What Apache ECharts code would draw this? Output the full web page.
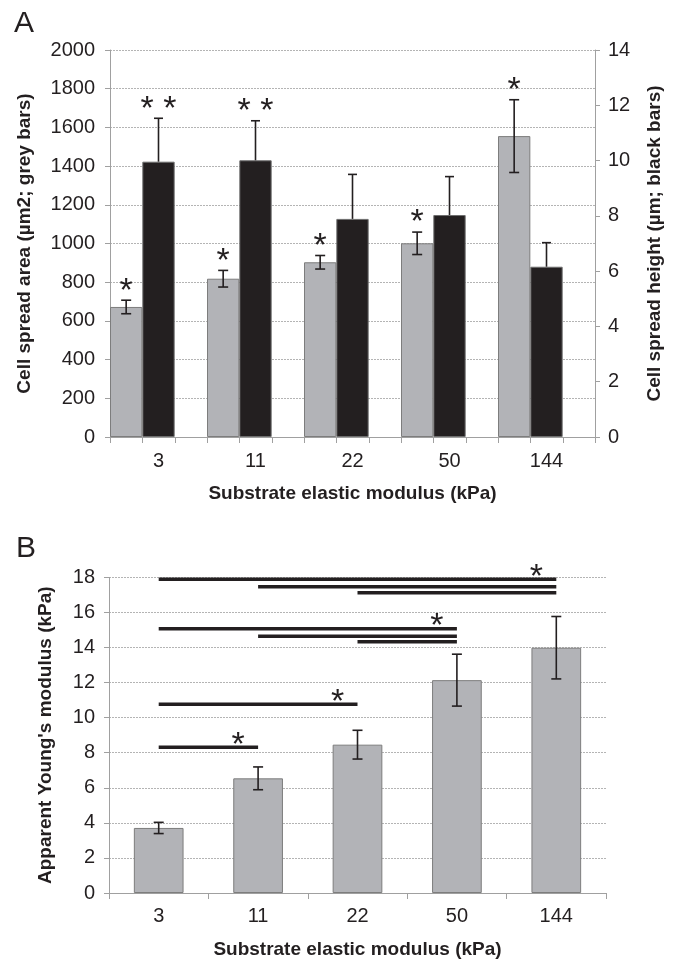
<!DOCTYPE html>
<html>
<head>
<meta charset="UTF-8">
<title>substrate stiffness</title>
<script type="text/javascript" src="https://cdn.jsdelivr.net/npm/echarts@6/dist/echarts.min.js"></script>
<style>
  body { margin: 0; background: #fff; }
</style>
</head>
<body>
<div id="main" style="width: 676px; height: 960px"></div>

<script type="text/javascript">
	// categories (substrate elastic modulus, kPa)
	var categories = ['3', '11', '22', '50', '144'];
	// bar-edge tick slots inside each category of panel A (last category also closes the axis)
	var edgeSlots = [[0, 1, 2], [0, 1, 2], [0, 1, 2], [0, 1, 2], [0, 1, 2, 3]];

	// panel A: grey bars = spread area (left axis), black bars = height (right axis)
	var areaMean = [672, 818, 903, 1001, 1555];
	var areaErr = [35, 43, 35, 58, 188];
	var areaStars = ['*', '*', '*', '*', '*'];
	var heightMean = [9.96, 10.01, 7.89, 8.03, 6.16];
	var heightErr = [1.57, 1.43, 1.61, 1.39, 0.87];
	var heightStars = ['* *', '* *', '', '', ''];

	// panel B: apparent Young's modulus
	var modulusMean = [3.71, 6.54, 8.46, 12.14, 13.99];
	var modulusErr = [0.32, 0.65, 0.82, 1.48, 1.78];

	// significance bars in panel B (category index from -> to, height in kPa)
	var sigFrom = [0, 1, 2, 0, 1, 2, 0, 0];
	var sigTo = [4, 4, 4, 3, 3, 3, 2, 1];
	var sigY = [17.89, 17.47, 17.12, 15.07, 14.65, 14.33, 10.77, 8.31];
	var sigStar = [true, false, false, true, false, false, true, true];

	var ink = '#231f20';
	var axisGrey = '#a0a0a0';
	var tickFont = 'Liberation Sans, Arial, sans-serif';
	var starFont = '34px Liberation Sans';

	var mychart = echarts.init(document.getElementById('main'));

	// error bar drawer; shift = offset of the bar centre in category widths
	function errorBars(shift, upperOnly, stars, capW, ticks) {
		return function (params, api) {
			var i = api.value(0), v = api.value(1), e = api.value(2);
			var band = api.size([1, 0])[0];
			var top = api.coord([i, v + e]);
			var bot = api.coord([i, upperOnly ? v : v - e]);
			var x = top[0] + shift * band;
			var st = { stroke: ink, lineWidth: 1.6 };
			var kids = [
				{ type: 'line', shape: { x1: x, y1: top[1], x2: x, y2: bot[1] }, style: st },
				{ type: 'line', shape: { x1: x - capW / 2, y1: top[1], x2: x + capW / 2, y2: top[1] }, style: st }
			];
			if (!upperOnly) {
				kids.push({ type: 'line', shape: { x1: x - capW / 2, y1: bot[1], x2: x + capW / 2, y2: bot[1] }, style: st });
			}
			var s = stars ? stars[params.dataIndex] : '';
			if (s) {
				kids.push({
					type: 'text', x: x, y: top[1] - 9,
					style: { text: s, fill: ink, font: starFont, align: 'center', verticalAlign: 'middle', textAlign: 'center', textVerticalAlign: 'middle' }
				});
			}
			if (ticks) {
				// axis ticks at the bar edges of this category
				var base = api.coord([i, 0]);
				ticks[params.dataIndex].forEach(function (slot) {
					var tx = Math.round(base[0] + (slot / 3 - 0.5) * band) + 0.5;
					kids.push({ type: 'line', shape: { x1: tx, y1: base[1], x2: tx, y2: base[1] + 6 }, style: { stroke: axisGrey, lineWidth: 1 } });
				});
			}
			return { type: 'group', children: kids };
		};
	}

	function sigBars(params, api) {
		var a = api.coord([api.value(0), api.value(2)]);
		var b = api.coord([api.value(1), api.value(2)]);
		var kids = [{ type: 'line', shape: { x1: a[0], y1: a[1], x2: b[0], y2: b[1] }, style: { stroke: ink, lineWidth: 3.5 } }];
		if (sigStar[params.dataIndex]) {
			kids.push({
				type: 'text', x: b[0] - 20, y: b[1] - 2,
				style: { text: '*', fill: ink, font: starFont, align: 'center', verticalAlign: 'middle', textAlign: 'center', textVerticalAlign: 'middle' }
			});
		}
		return { type: 'group', children: kids };
	}

	var plain = function (v) { return String(v); };
	var yLabel = { color: ink, fontFamily: tickFont, fontSize: 20, formatter: plain };
	var nameStyle = { color: ink, fontFamily: tickFont, fontSize: 19, fontWeight: 'bold' };
	var dotted = { show: true, lineStyle: { color: '#b4b4b4', type: [2, 1], width: 1 } };

	var option = {
		animation: false,
		textStyle: { fontFamily: tickFont },
		graphic: [
			{ type: 'text', left: 14, top: 9, style: { text: 'A', font: '30px Liberation Sans', fill: ink } },
			{ type: 'text', left: 16, top: 534, style: { text: 'B', font: '30px Liberation Sans', fill: ink } }
		],
		grid: [
			{ left: 110, top: 50, width: 485, height: 387 },
			{ left: 109, top: 577.4, width: 497, height: 318.6 }
		],
		xAxis: [{
			gridIndex: 0, type: 'category', data: categories,
			axisLine: { onZero: false, lineStyle: { color: axisGrey } },
			axisTick: { show: true, length: 6, lineStyle: { color: axisGrey } },
			axisLabel: { color: ink, fontSize: 20, margin: 14 },
			name: 'Substrate elastic modulus (kPa)', nameLocation: 'middle', nameGap: 47,
			nameTextStyle: nameStyle
		}, {
			gridIndex: 1, type: 'category', data: categories,
			axisLine: { lineStyle: { color: axisGrey } },
			axisTick: { show: true, length: 6, lineStyle: { color: axisGrey } },
			axisLabel: { color: ink, fontSize: 20, margin: 13 },
			name: 'Substrate elastic modulus (kPa)', nameLocation: 'middle', nameGap: 47,
			nameTextStyle: nameStyle
		}],
		yAxis: [{
			gridIndex: 0, type: 'value', min: 0, max: 2000, interval: 200,
			axisLine: { show: true, lineStyle: { color: axisGrey } },
			axisTick: { show: true, length: 5, lineStyle: { color: axisGrey } },
			axisLabel: Object.assign({ margin: 15 }, yLabel),
			splitLine: dotted,
			name: 'Cell spread area (µm2; grey bars)', nameLocation: 'middle', nameGap: 76,
			nameRotate: 90, nameTextStyle: nameStyle
		}, {
			gridIndex: 0, type: 'value', position: 'right', min: 0, max: 14, interval: 2,
			axisLine: { show: true, lineStyle: { color: axisGrey } },
			axisTick: { show: true, length: 5, lineStyle: { color: axisGrey } },
			axisLabel: Object.assign({ margin: 13 }, yLabel),
			splitLine: { show: false },
			name: 'Cell spread height (µm; black bars)', nameLocation: 'middle', nameGap: 50,
			nameRotate: 90, nameTextStyle: nameStyle
		}, {
			gridIndex: 1, type: 'value', min: 0, max: 18, interval: 2,
			axisLine: { show: true, lineStyle: { color: axisGrey } },
			axisTick: { show: true, length: 5, lineStyle: { color: axisGrey } },
			axisLabel: Object.assign({ margin: 14 }, yLabel),
			splitLine: dotted,
			name: "Apparent Young's modulus (kPa)", nameLocation: 'middle', nameGap: 54,
			nameRotate: 90, nameTextStyle: nameStyle
		}],
		series: [{
			name: 'area', type: 'bar', xAxisIndex: 0, yAxisIndex: 0,
			data: areaMean, barGap: '0%', barCategoryGap: '0%',
			itemStyle: { color: '#b2b3b7', borderColor: '#7d7d7d', borderWidth: 1 }
		}, {
			name: 'height', type: 'bar', xAxisIndex: 0, yAxisIndex: 1,
			data: heightMean, barGap: '0%', barCategoryGap: '0%',
			itemStyle: { color: ink, borderColor: '#6e6e6e', borderWidth: 1 }
		}, {
			// empty third slot keeps the pair left-aligned in each category
			name: 'spacer', type: 'bar', xAxisIndex: 0, yAxisIndex: 1,
			data: [null, null, null, null, null], barGap: '0%', barCategoryGap: '0%'
		}, {
			type: 'custom', xAxisIndex: 0, yAxisIndex: 0, z: 10, clip: false,
			renderItem: errorBars(-1 / 3, false, areaStars, 10, edgeSlots),
			data: areaMean.map(function (v, i) { return [i, v, areaErr[i]]; })
		}, {
			type: 'custom', xAxisIndex: 0, yAxisIndex: 1, z: 10,
			renderItem: errorBars(0, true, heightStars, 9, null),
			data: heightMean.map(function (v, i) { return [i, v, heightErr[i]]; })
		}, {
			name: 'modulus', type: 'bar', xAxisIndex: 1, yAxisIndex: 2,
			data: modulusMean, barWidth: '50%',
			itemStyle: { color: '#b2b3b7', borderColor: '#7d7d7d', borderWidth: 1 }
		}, {
			type: 'custom', xAxisIndex: 1, yAxisIndex: 2, z: 10,
			renderItem: errorBars(0, false, null, 10, null),
			data: modulusMean.map(function (v, i) { return [i, v, modulusErr[i]]; })
		}, {
			type: 'custom', xAxisIndex: 1, yAxisIndex: 2, z: 10,
			renderItem: sigBars,
			data: sigY.map(function (y, i) { return [sigFrom[i], sigTo[i], y]; })
		}]
	};

	mychart.setOption(option);
</script>
</body>
</html>
